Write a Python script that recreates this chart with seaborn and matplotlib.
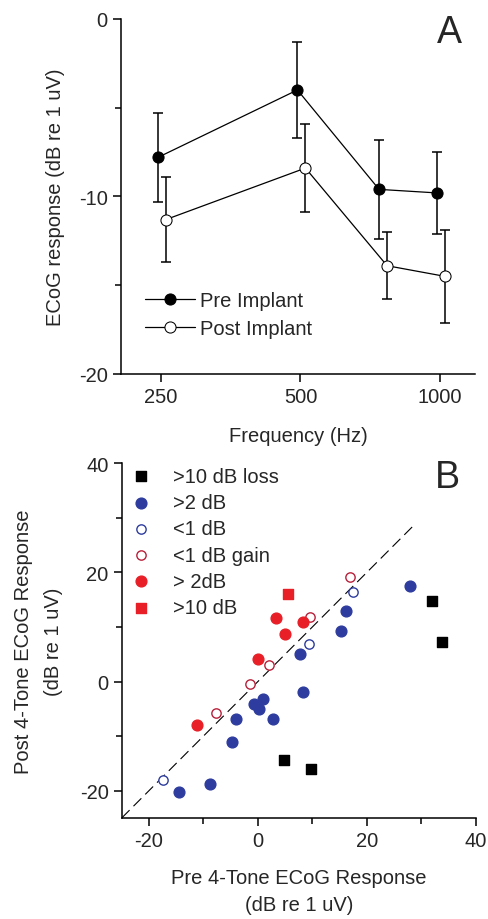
import numpy as np
import pandas as pd
import matplotlib
matplotlib.use("Agg")
import matplotlib.pyplot as plt
import seaborn as sns

# ---------------- Panel A data ----------------
freqs = [250, 500, 750, 1000]
pre_mean = [-7.8, -4.0, -9.6, -9.8]
pre_err = [2.5, 2.7, 2.8, 2.3]
post_mean = [-11.3, -8.4, -13.9, -14.5]
post_err = [2.4, 2.5, 1.9, 2.6]
freq_ticks = [250, 500, 1000]

# ---------------- Panel B data ----------------
loss10_x = [31.9, 33.8, 4.8, 9.7]
loss10_y = [14.8, 7.3, -14.3, -16.0]
blue2_x = [28.0, 16.1, 15.3, 7.8, 8.2, 1.0, -0.7, 0.2, 2.8, -4.0, -4.7, -8.7, -14.5]
blue2_y = [17.5, 12.9, 9.2, 5.1, -2.0, -3.2, -4.2, -5.0, -6.8, -6.9, -11.1, -18.8, -20.2]
blue1_x = [17.4, 9.3, -17.5]
blue1_y = [16.4, 6.9, -18.1]
gain1_x = [17.0, 9.6, 2.1, -1.5, -7.7]
gain1_y = [19.2, 11.9, 3.1, -0.4, -5.8]
red2_x = [3.3, 8.3, 5.0, 0.0, -11.1]
red2_y = [11.6, 11.0, 8.7, 4.1, -7.9]
red10_x = [5.5]
red10_y = [16.1]
ident = [-25, 28.5]

sns.set_style("ticks")
plt.rcParams['font.family'] = ['Liberation Sans', 'DejaVu Sans']
plt.rcParams['axes.unicode_minus'] = False
FS = 14.5

fig = plt.figure(figsize=(4.89, 9.2), dpi=100)
axA = fig.add_axes([0.2474, 0.5924, 0.7240, 0.3859])
axB = fig.add_axes([0.2489, 0.1098, 0.7239, 0.3855])

# ---- Panel A ----
pre_x = [f * 0.985 for f in freqs]
post_x = [f * 1.025 for f in freqs]
dfA = pd.DataFrame({"x": pre_x + post_x, "y": pre_mean + post_mean,
                    "grp": ["Pre Implant"] * 4 + ["Post Implant"] * 4})
axA.errorbar(pre_x, pre_mean, yerr=pre_err, fmt="none", ecolor="black",
             elinewidth=1.1, capsize=3.5, capthick=1.1, zorder=2)
axA.errorbar(post_x, post_mean, yerr=post_err, fmt="none", ecolor="black",
             elinewidth=1.1, capsize=3.5, capthick=1.1, zorder=2)
sns.lineplot(data=dfA[dfA.grp == "Pre Implant"], x="x", y="y", ax=axA,
             color="black", lw=0.9, marker="o", markersize=8,
             markerfacecolor="black", markeredgecolor="black", zorder=3,
             label="Pre Implant")
sns.lineplot(data=dfA[dfA.grp == "Post Implant"], x="x", y="y", ax=axA,
             color="black", lw=0.9, marker="o", markersize=8,
             markerfacecolor="white", markeredgecolor="black", zorder=3,
             label="Post Implant")
axA.set_xscale("log", base=2)
axA.set_xlim(205, 1190)
axA.set_ylim(-20, 0)
axA.set_xticks(freq_ticks)
axA.set_xticklabels([str(t) for t in freq_ticks])
axA.xaxis.set_minor_locator(matplotlib.ticker.NullLocator())
axA.set_yticks([0, -10, -20])
axA.set_yticks([-5, -15], minor=True)
axA.set_xlabel("Frequency (Hz)", fontsize=FS, labelpad=14)
axA.set_ylabel("ECoG response (dB re 1 uV)", fontsize=FS, labelpad=10)
axA.text(0.928, 0.962, "A", transform=axA.transAxes, fontsize=27,
         ha="center", va="center")
axA.legend(loc="lower left", bbox_to_anchor=(0.045, 0.078), frameon=False,
           fontsize=FS, handlelength=2.5, handletextpad=0.25,
           labelspacing=0.45, borderaxespad=0)

# ---- Panel B ----
blue = "#2d3c9e"
red = "#e81f27"
darkred = "#b8203a"
axB.plot(ident, ident, color="black", lw=0.8, ls=(0, (10, 5)), zorder=1)
groups = [
    (loss10_x, loss10_y, ">10 dB loss", "s", "black", "black", 58),
    (blue2_x, blue2_y, ">2 dB", "o", blue, blue, 60),
    (blue1_x, blue1_y, "<1 dB", "o", "white", blue, 45),
    (gain1_x, gain1_y, "<1 dB gain", "o", "white", darkred, 45),
    (red2_x, red2_y, "> 2dB", "o", red, red, 60),
    (red10_x, red10_y, ">10 dB", "s", red, red, 58),
]
for gx, gy, lab, mk, fc, ec, s in groups:
    sns.scatterplot(x=gx, y=gy, ax=axB, marker=mk, s=s, facecolor=fc,
                    edgecolor=ec, linewidth=1.0, zorder=3, label=lab)
axB.set_xlim(-25, 40)
axB.set_ylim(-25, 40)
axB.set_xticks([-20, 0, 20, 40])
axB.set_xticks([-10, 10, 30], minor=True)
axB.set_yticks([-20, 0, 20, 40])
axB.set_yticks([-10, 10, 30], minor=True)
axB.set_xlabel("Pre 4-Tone ECoG Response\n(dB re 1 uV)", fontsize=FS,
               labelpad=13, linespacing=1.55)
axB.set_ylabel("Post 4-Tone ECoG Response\n(dB re 1 uV)", fontsize=FS,
               labelpad=12, linespacing=1.75)
axB.text(0.919, 0.962, "B", transform=axB.transAxes, fontsize=27,
         ha="center", va="center")
axB.legend(loc="upper left", bbox_to_anchor=(-0.025, 1.013), frameon=False,
           fontsize=FS, handletextpad=0.6, labelspacing=0.36,
           borderaxespad=0, markerscale=1.0)

for ax in (axA, axB):
    sns.despine(ax=ax)
    ax.tick_params(axis="both", which="major", labelsize=FS, length=6,
                   width=1.1, direction="out", color="black")
    ax.tick_params(axis="both", which="minor", length=4, width=1.1,
                   direction="out", color="black")
    for sp in ("left", "bottom"):
        ax.spines[sp].set_linewidth(1.1)
        ax.spines[sp].set_color("black")

fig.savefig("out.png", dpi=100)
